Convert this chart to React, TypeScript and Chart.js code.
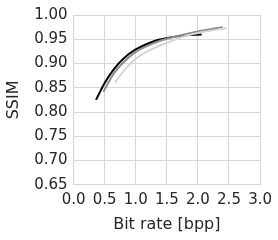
import React, { useEffect, useRef } from "react";
import { Chart, registerables } from "chart.js";

Chart.register(...registerables);

const blackX = [0.36, 0.5, 0.64, 0.8, 1.0, 1.27, 1.53, 1.8, 2.06];
const blackY = [0.825, 0.860, 0.887, 0.910, 0.929, 0.945, 0.953, 0.958, 0.960];
const darkX = [0.48, 0.64, 0.8, 1.0, 1.27, 1.5, 1.75, 2.0, 2.4];
const darkY = [0.842, 0.878, 0.902, 0.924, 0.941, 0.951, 0.959, 0.966, 0.975];
const lightX = [0.67, 0.8, 1.0, 1.27, 1.53, 1.75, 2.0, 2.46];
const lightY = [0.861, 0.884, 0.910, 0.930, 0.944, 0.955, 0.963, 0.973];

const xTicks = [0, 0.5, 1, 1.5, 2, 2.5, 3];
const yTicks = [0.65, 0.7, 0.75, 0.8, 0.85, 0.9, 0.95, 1.0];

const pts = (xs: number[], ys: number[]) => xs.map((x, i) => ({ x, y: ys[i] }));

export default function App() {
  const ref = useRef<HTMLCanvasElement>(null);
  useEffect(() => {
    document.body.style.margin = "0";
    const font = { family: "DejaVu Sans", size: 15 };
    const titleFont = { family: "DejaVu Sans", size: 16 };
    const ds = (data: any, color: string) => ({
      data,
      borderColor: color,
      backgroundColor: color,
      borderWidth: 2,
      pointRadius: 0,
      cubicInterpolationMode: "monotone" as const,
      fill: false,
    });
    const chart = new Chart(ref.current!, {
      type: "line",
      data: {
        datasets: [
          ds(pts(lightX, lightY), "#d4d4d4"),
          ds(pts(darkX, darkY), "#8c8c8c"),
          ds(pts(blackX, blackY), "#000000"),
        ],
      },
      options: {
        animation: false,
        responsive: false,
        layout: { padding: { top: 6, right: 8, left: 4, bottom: 6 } },
        plugins: { legend: { display: false }, tooltip: { enabled: false } },
        scales: {
          x: {
            type: "linear",
            min: 0,
            max: 3,
            afterBuildTicks: (s: any) => {
              s.ticks = xTicks.map((v) => ({ value: v }));
            },
            ticks: { font, color: "#262626", padding: 6, maxRotation: 0, callback: (v: any) => Number(v).toFixed(1) },
            grid: { color: "#d6d6d6", lineWidth: 1, drawTicks: false },
            border: { color: "#d6d6d6" },
            title: { display: true, text: "Bit rate [bpp]", font: titleFont, color: "#262626", padding: { top: 0, bottom: 0 } },
          },
          y: {
            type: "linear",
            min: 0.65,
            max: 1.0,
            afterBuildTicks: (s: any) => {
              s.ticks = yTicks.map((v) => ({ value: v }));
            },
            ticks: { font, color: "#262626", padding: 6, callback: (v: any) => Number(v).toFixed(2) },
            grid: { color: "#d6d6d6", lineWidth: 1, drawTicks: false },
            border: { color: "#d6d6d6" },
            title: { display: true, text: "SSIM", font: titleFont, color: "#262626", padding: { top: 0, bottom: 5 } },
          },
        },
      },
    });
    return () => chart.destroy();
  }, []);
  return (
    <div style={{ width: 278, height: 240 }}>
      <canvas ref={ref} width={278} height={240} />
    </div>
  );
}
